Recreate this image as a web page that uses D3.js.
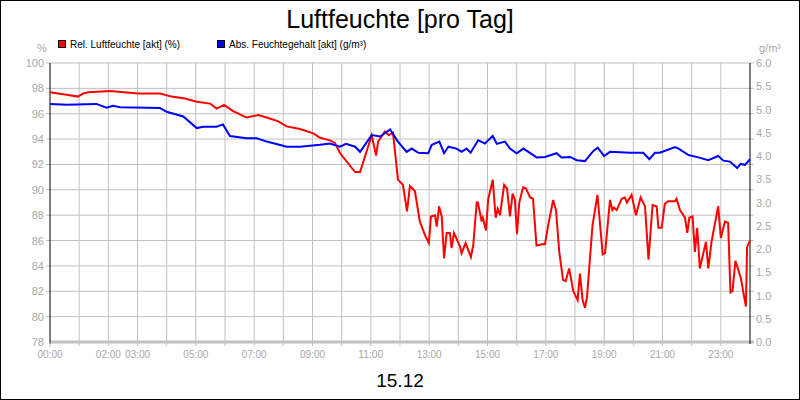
<!DOCTYPE html>
<html><head><meta charset="utf-8">
<script src="https://cdn.jsdelivr.net/npm/d3@7"></script>
<style>body{margin:0;background:#fff}svg{font-family:"Liberation Sans",Arial,sans-serif}</style>
</head><body><svg width="800" height="400"></svg>
<script>
var relHours = [0,0.57,0.96,1.14,1.31,2.06,3.03,3.77,4.17,4.63,5.03,5.49,5.71,5.97,6.28,6.74,7.14,7.43,7.83,8.11,8.57,9.03,9.26,9.6,9.77,9.94,10.46,10.63,11.03,11.18,11.25,11.48,11.62,11.76,11.93,12.1,12.24,12.34,12.51,12.68,12.86,12.99,13.06,13.2,13.26,13.34,13.43,13.51,13.6,13.71,13.77,13.85,14.06,14.11,14.25,14.43,14.51,14.63,14.67,14.8,14.84,14.95,15.02,15.18,15.28,15.35,15.43,15.57,15.67,15.77,15.86,15.94,16.01,16.09,16.22,16.32,16.46,16.56,16.68,16.86,16.97,17.08,17.25,17.35,17.46,17.59,17.68,17.8,17.94,18.09,18.17,18.26,18.34,18.41,18.6,18.77,18.95,19.03,19.2,19.28,19.34,19.43,19.6,19.71,19.78,19.94,20.09,20.25,20.4,20.52,20.66,20.8,20.86,20.97,21.08,21.2,21.43,21.48,21.6,21.77,21.85,21.92,22.03,22.11,22.19,22.28,22.49,22.57,22.68,22.91,23.0,23.14,23.25,23.33,23.4,23.5,23.68,23.86,23.9,24];
var relValues = [97.7,97.5,97.35,97.6,97.7,97.8,97.6,97.6,97.35,97.2,96.95,96.8,96.4,96.7,96.2,95.7,95.9,95.7,95.4,95.0,94.8,94.45,94.1,93.9,93.7,92.9,91.4,91.4,94.3,92.7,93.8,94.6,94.3,94.5,90.8,90.4,88.3,90.3,89.9,87.5,86.4,85.8,87.9,88.0,87.1,88.7,87.9,84.6,86.6,86.6,85.4,86.6,85.5,85.0,85.8,84.7,85.6,89.0,89.0,87.5,87.8,86.8,89.2,90.8,87.8,88.5,88.0,90.4,90.1,87.9,89.7,89.2,86.5,89.0,90.2,90.1,89.4,89.3,85.6,85.7,85.7,87.2,89.2,88.4,85.1,82.9,82.8,83.8,82.0,81.3,83.4,81.3,80.7,81.5,87.2,89.6,84.9,85.0,89.2,88.4,88.6,88.4,89.3,89.4,89.0,89.6,88.0,89.4,88.7,84.5,88.8,88.7,87.0,87.0,88.9,89.1,89.1,89.3,88.4,87.8,86.6,87.8,87.9,85.1,87.0,83.8,85.9,83.8,85.9,88.7,86.2,87.5,87.4,81.9,82.0,84.4,83.1,80.8,85.5,86.0];
var absHours = [0,0.57,1.59,1.94,2.16,2.4,3.77,4.0,4.57,5.03,5.25,5.71,5.93,6.17,6.74,7.09,7.43,7.99,8.11,8.57,9.26,9.6,9.94,10.15,10.46,10.63,11.03,11.32,11.66,11.93,12.23,12.4,12.63,12.97,13.09,13.35,13.51,13.66,13.94,14.11,14.28,14.42,14.68,14.91,15.18,15.32,15.6,15.77,16.0,16.23,16.57,16.68,16.97,17.37,17.54,17.83,18.06,18.34,18.63,18.78,19.0,19.2,19.89,20.34,20.55,20.74,20.91,21.43,21.55,21.89,22.23,22.57,22.91,23.09,23.31,23.56,23.68,23.83,24];
var absValues = [5.12,5.10,5.12,5.04,5.08,5.05,5.03,4.95,4.85,4.60,4.63,4.63,4.68,4.43,4.38,4.38,4.31,4.22,4.2,4.2,4.24,4.27,4.2,4.26,4.2,4.09,4.45,4.42,4.57,4.31,4.09,4.16,4.07,4.06,4.24,4.31,4.06,4.2,4.16,4.09,4.16,4.07,4.34,4.27,4.43,4.26,4.31,4.16,4.06,4.16,4.02,3.97,3.98,4.06,3.97,3.98,3.91,3.89,4.11,4.18,4.0,4.09,4.07,4.07,3.93,4.07,4.07,4.19,4.16,4.02,3.97,3.91,4.0,3.9,3.88,3.74,3.83,3.81,3.93];
var leftTicks = [78,80,82,84,86,88,90,92,94,96,98,100];
var rightTicks = [0,0.5,1,1.5,2,2.5,3,3.5,4,4.5,5,5.5,6];
var xLabelHours = [0,2,3,5,7,9,11,13,15,17,19,21,23];

var svg = d3.select("svg");
var L = 50, R = 750, T = 63, B = 342, grid = "#c0c0c0", lab = "#a8a8a8";
var x = d3.scaleLinear().domain([0, 24]).range([L, R]);
var yL = d3.scaleLinear().domain([78, 100]).range([B, T]);
var yR = d3.scaleLinear().domain([0, 6]).range([B, T]);

svg.append("rect").attr("x", 0.5).attr("y", 0.5).attr("width", 799).attr("height", 399)
    .attr("fill", "#fff").attr("stroke", "#000");
svg.append("text").attr("x", 400).attr("y", 28).attr("text-anchor", "middle")
    .attr("font-size", 25).text("Luftfeuchte [pro Tag]");

// grid
svg.selectAll(".vg").data(d3.range(1, 24)).enter().append("line")
    .attr("x1", d => x(d)).attr("x2", d => x(d)).attr("y1", T).attr("y2", B + 4)
    .attr("stroke", grid);
svg.selectAll(".hg").data(leftTicks.slice(1)).enter().append("line")
    .attr("x1", L - 4).attr("x2", R + 4).attr("y1", d => yL(d)).attr("y2", d => yL(d))
    .attr("stroke", grid);
svg.append("line").attr("x1", L).attr("x2", R + 4).attr("y1", B).attr("y2", B)
    .attr("stroke", grid).attr("stroke-width", 3);
svg.append("line").attr("x1", L).attr("x2", L).attr("y1", T).attr("y2", B + 2).attr("stroke", "#000");
svg.append("line").attr("x1", R).attr("x2", R).attr("y1", T).attr("y2", B + 2).attr("stroke", "#000");
svg.append("line").attr("x1", L).attr("x2", L).attr("y1", B).attr("y2", B + 5).attr("stroke", grid);

// tick labels
svg.selectAll(".lt").data(leftTicks).enter().append("text")
    .attr("x", L - 6).attr("y", d => yL(d) + 4).attr("text-anchor", "end")
    .attr("font-size", 11).attr("fill", lab).text(d => d);
svg.selectAll(".rt").data(rightTicks).enter().append("text")
    .attr("x", R + 6).attr("y", d => yR(d) + 4)
    .attr("font-size", 11).attr("fill", lab).text(d => d.toFixed(1));
svg.selectAll(".xt").data(xLabelHours).enter().append("text")
    .attr("x", d => x(d)).attr("y", B + 16).attr("text-anchor", "middle")
    .attr("font-size", 11).attr("fill", lab).attr("textLength", 25).attr("lengthAdjust", "spacingAndGlyphs")
    .text(d => (d < 10 ? "0" : "") + d + ":00");
svg.append("text").attr("x", 42).attr("y", 52).attr("text-anchor", "middle")
    .attr("font-size", 11).attr("fill", lab).text("%");
svg.append("text").attr("x", 770).attr("y", 52).attr("text-anchor", "middle")
    .attr("font-size", 11).attr("fill", lab).text("g/m³");
svg.append("text").attr("x", 400).attr("y", 387).attr("text-anchor", "middle")
    .attr("font-size", 19).text("15.12");

// legend
var legend = [["Rel. Luftfeuchte [akt] (%)", "#ff0000", 58], ["Abs. Feuchtegehalt [akt] (g/m³)", "#0000ff", 217]];
legend.forEach(function (l) {
    svg.append("rect").attr("x", l[2] + 0.5).attr("y", 40.5).attr("width", 7).attr("height", 7)
        .attr("fill", l[1]).attr("stroke", "#000");
    svg.append("text").attr("x", l[2] + 12).attr("y", 48).attr("font-size", 10).text(l[0]);
});

var lineL = d3.line().x((d, i) => x(relHours[i])).y(d => yL(d));
var lineR = d3.line().x((d, i) => x(absHours[i])).y(d => yR(d));
svg.append("path").attr("d", lineL(relValues)).attr("fill", "none").attr("stroke", "#ff0000").attr("stroke-width", 2);
svg.append("path").attr("d", lineR(absValues)).attr("fill", "none").attr("stroke", "#0000ff").attr("stroke-width", 2);
</script></body></html>
